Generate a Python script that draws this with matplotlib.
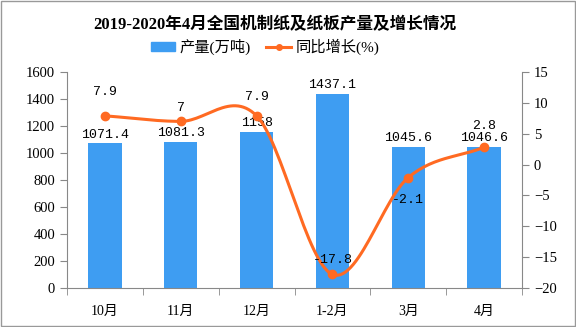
import matplotlib
matplotlib.use("Agg")
import matplotlib.pyplot as plt
import numpy as np
from matplotlib.lines import Line2D
from matplotlib.patches import Patch, Rectangle

plt.rcParams['font.family'] = ['Liberation Serif', 'Noto Sans CJK SC', 'DejaVu Sans']

categories = ['10月', '11月', '12月', '1-2月', '3月', '4月']
output = [1071.4, 1081.3, 1158, 1437.1, 1045.6, 1046.6]
growth = [7.9, 7, 7.9, -17.8, -2.1, 2.8]
output_labels = ['1071.4', '1081.3', '1158', '1437.1', '1045.6', '1046.6']
growth_labels = ['7.9', '7', '7.9', '-17.8', '-2.1', '2.8']

bar_color = '#3E9DF2'
line_color = '#FF6A22'
axis_color = '#888888'
mono = ['Liberation Mono', 'DejaVu Sans Mono']

fig = plt.figure(figsize=(5.76, 3.27), dpi=100)
ax = fig.add_axes([67/576, 1-288/327, (522-67)/576, (288-72)/327])
ax2 = ax.twinx()

x = np.arange(len(categories))
ax.bar(x, output, width=0.44, color=bar_color, zorder=2)
for xi, v, lab in zip(x, output, output_labels):
    ax.text(xi, v + 20, lab, ha='center', va='bottom', fontsize=9.5, family=mono)

# Catmull-Rom smoothing through the data points
def catmull(xs, ys, n=30):
    px = np.concatenate([[2*xs[0]-xs[1]], xs, [2*xs[-1]-xs[-2]]])
    py = np.concatenate([[2*ys[0]-ys[1]], ys, [2*ys[-1]-ys[-2]]])
    outx, outy = [], []
    t = np.linspace(0, 1, n)
    f = lambda a, b, c, d: 0.5*((2*b) + (-a+c)*t + (2*a-5*b+4*c-d)*t**2 + (-a+3*b-3*c+d)*t**3)
    for i in range(1, len(px)-2):
        outx.append(f(px[i-1], px[i], px[i+1], px[i+2]))
        outy.append(f(py[i-1], py[i], py[i+1], py[i+2]))
    return np.concatenate(outx), np.concatenate(outy)

sx, sy = catmull(x.astype(float), np.array(growth, dtype=float))
ax2.plot(sx, sy, color=line_color, lw=2.2, zorder=3)
ax2.plot(x, growth, 'o', color=line_color, ms=6, zorder=4)
offsets = [13, 5, 9, 6, -12, 11]
for xi, v, lab, off in zip(x, growth, growth_labels, offsets):
    ax2.annotate(lab, (xi, v), xytext=(0, off), textcoords='offset points', ha='center',
                 va='bottom' if off >= 0 else 'top', fontsize=9.5, family=mono, zorder=5)

ax.set_xlim(-0.5, len(categories)-0.5)
ax.set_ylim(0, 1600)
ax.set_yticks(np.arange(0, 1601, 200))
ax2.set_ylim(-20, 15)
ax2.set_yticks(np.arange(-20, 16, 5))
ax.set_xticks(x)
ax.set_xticklabels(categories, fontsize=10)
ax.set_xticks(np.arange(-0.5, len(categories), 1), minor=True)
ax.tick_params(axis='x', which='major', length=0, pad=12)
ax.tick_params(axis='x', which='minor', length=5, color=axis_color, direction='out')
ax.tick_params(axis='y', length=5, color=axis_color, labelsize=10.5)
ax2.tick_params(axis='y', length=5, color=axis_color, labelsize=10.5)

for a in (ax, ax2):
    a.spines['top'].set_visible(False)
    for s in ('left', 'right', 'bottom'):
        a.spines[s].set_color(axis_color)
ax.spines['right'].set_visible(False)
ax2.spines['left'].set_visible(False)
ax2.spines['bottom'].set_visible(False)

fig.text(275/576, 1-25/327, '2019-2020年4月全国机制纸及纸板产量及增长情况', ha='center', va='center',
         fontsize=12, fontweight='bold')
handles = [Patch(color=bar_color, label='产量(万吨)'),
           Line2D([0], [0], color=line_color, lw=2.2, marker='o', ms=4, label='同比增长(%)')]
fig.legend(handles=handles, loc='center', bbox_to_anchor=(265/576, 1-47/327), ncol=2, frameon=False,
           fontsize=11, handlelength=1.6, handletextpad=0.3, columnspacing=1.0, handleheight=0.5)

fig.patches.append(Rectangle((0.001, 0.002), 0.997, 0.995, transform=fig.transFigure, fill=False,
                             edgecolor='#999999', lw=1))

fig.savefig('out.png', dpi=100)
